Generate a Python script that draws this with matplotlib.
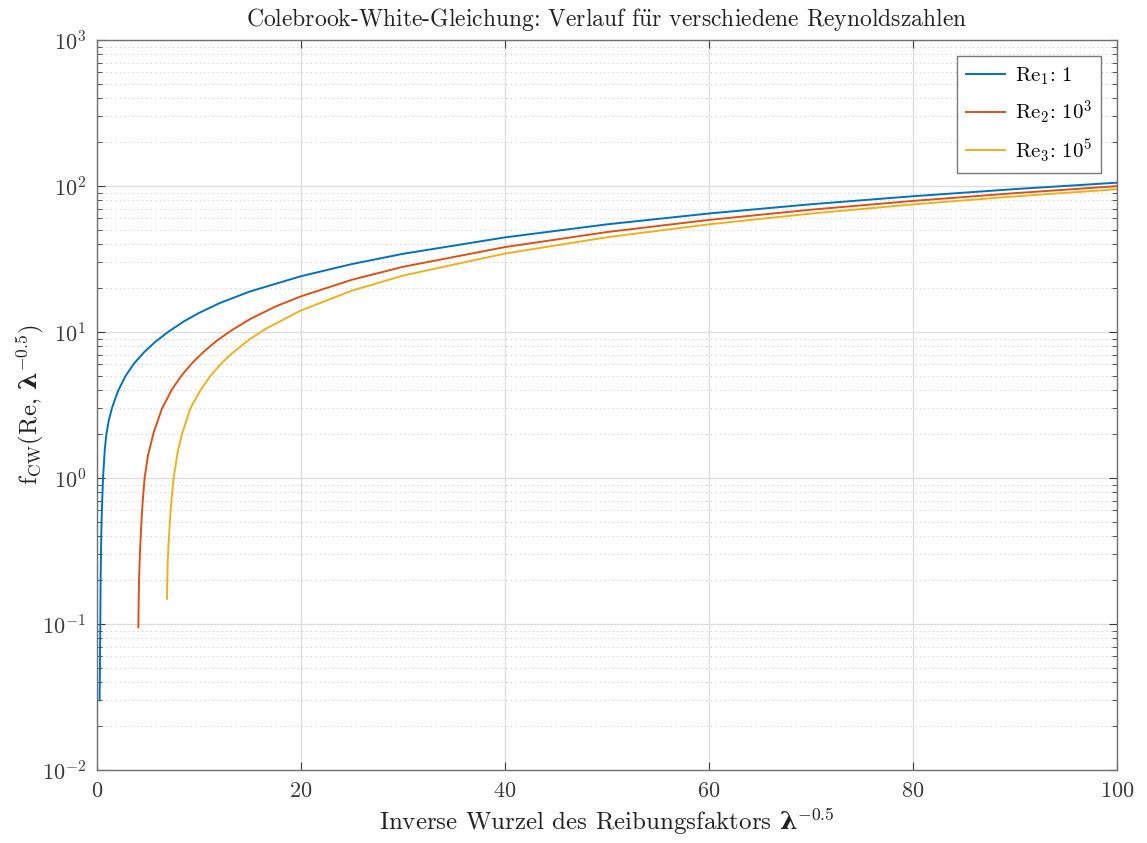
import matplotlib
matplotlib.use("Agg")
import matplotlib.pyplot as plt
from matplotlib.ticker import LogLocator, NullFormatter

plt.rcParams['font.family'] = ['cmr10', 'DejaVu Serif']
plt.rcParams['mathtext.fontset'] = 'custom'
plt.rcParams['mathtext.rm'] = 'cmr10'
plt.rcParams['mathtext.it'] = 'cmmi10'
plt.rcParams['mathtext.bf'] = 'DejaVu Serif:bold'
plt.rcParams['axes.formatter.use_mathtext'] = True
plt.rcParams['axes.unicode_minus'] = False

# Colebrook-White curves, one list pair per Reynolds number
x_re1 = [0.25, 0.27, 0.29, 0.32, 0.35, 0.39, 0.44, 0.5, 0.59, 0.75, 0.91, 1.15, 1.47,
         1.8, 2.1, 2.8, 3.6, 4.6, 5.7, 7.0, 8.5, 10, 12, 15, 20, 25, 30, 40, 50, 60,
         70, 80, 90, 100]
y_re1 = [0.030, 0.040, 0.055, 0.10, 0.20, 0.32, 0.50, 0.68, 1.01, 1.53, 1.99, 2.48, 3.02,
         3.52, 4.0, 5.0, 6.05, 7.25, 8.55, 10.05, 11.8, 13.5, 15.75, 18.95, 24.1, 29.2,
         34.3, 44.45, 54.6, 64.8, 74.95, 85.05, 95.2, 105.35]

x_re2 = [4.05, 4.08, 4.12, 4.2, 4.31, 4.45, 4.67, 5.0, 5.55, 6.37, 7.35, 8.33, 9.31,
         10.45, 11.76, 13.24, 15, 17.5, 20, 25, 30, 40, 50, 60, 70, 80, 90, 100]
y_re2 = [0.095, 0.14, 0.20, 0.30, 0.44, 0.65, 1.01, 1.43, 2.05, 2.99, 4.05, 5.08, 6.11,
         7.32, 8.74, 10.32, 12.25, 14.95, 17.55, 22.8, 27.95, 38.15, 48.35, 58.55, 68.8,
         79.0, 89.3, 99.7]

x_re3 = [6.86, 6.89, 6.92, 7.0, 7.09, 7.25, 7.51, 7.9, 8.33, 9.15, 10.1, 11.1, 12.1,
         13.2, 15, 16.5, 20, 25, 30, 40, 50, 60, 70, 80, 90, 100]
y_re3 = [0.149, 0.20, 0.26, 0.34, 0.44, 0.65, 1.0, 1.5, 2.0, 3.0, 3.95, 4.98, 6.0,
         7.12, 8.95, 10.48, 14.05, 19.2, 24.33, 34.45, 44.55, 54.62, 64.7, 74.8,
         84.88, 95.0]

labels = [r'Re$_1$: 1', r'Re$_2$: 10$^3$', r'Re$_3$: 10$^5$']
colors = ['#0072BD', '#D95319', '#EDB120']

fig = plt.figure(figsize=(11.47, 8.43), dpi=100)
ax = fig.add_axes([0.0846, 0.0866, 0.8893, 0.866])

for xs, ys, lab, c in zip([x_re1, x_re2, x_re3], [y_re1, y_re2, y_re3], labels, colors):
    ax.plot(xs, ys, color=c, lw=1.4, label=lab)

ax.set_yscale('log')
ax.set_xlim(0, 100)
ax.set_ylim(1e-2, 1e3)
ax.set_xticks([0, 20, 40, 60, 80, 100])
ax.yaxis.set_major_locator(LogLocator(base=10, numticks=10))
ax.yaxis.set_minor_locator(LogLocator(base=10, subs=range(2, 10), numticks=50))
ax.yaxis.set_minor_formatter(NullFormatter())

ax.grid(True, which='major', color='#dcdcdc', lw=0.9)
ax.grid(True, which='minor', axis='y', color='#cccccc', lw=0.8, ls=(0, (1, 3)))
ax.set_axisbelow(True)

for s in ax.spines.values():
    s.set_color('#707070')
    s.set_linewidth(1.0)
ax.tick_params(which='both', direction='in', top=True, right=True, colors='#3a3a3a',
               labelsize=16)
ax.tick_params(which='major', length=6)
ax.tick_params(which='minor', length=3.5)
ax.tick_params(axis='x', pad=8)
ax.tick_params(axis='y', pad=8)

ax.set_title(r'Colebrook-White-Gleichung: Verlauf f$\ddot{\mathrm{u}}$r verschiedene Reynoldszahlen',
             fontsize=17, pad=10, color='#222222')
ax.set_xlabel(r'Inverse Wurzel des Reibungsfaktors $\mathbf{\lambda}^{-0.5}$',
              fontsize=18, labelpad=4, color='#222222')
ax.set_ylabel(r'f$_\mathrm{CW}$(Re, $\mathbf{\lambda}^{-0.5}$)',
              fontsize=18, labelpad=-3, color='#222222')

leg = ax.legend(loc='upper right', fontsize=15, fancybox=False, framealpha=1,
                edgecolor='#7a7a7a', borderpad=0.45, labelspacing=0.55,
                handlelength=1.9, handletextpad=0.45, borderaxespad=0.75)
leg.get_frame().set_linewidth(1.0)

fig.savefig('out.png', dpi=100)
